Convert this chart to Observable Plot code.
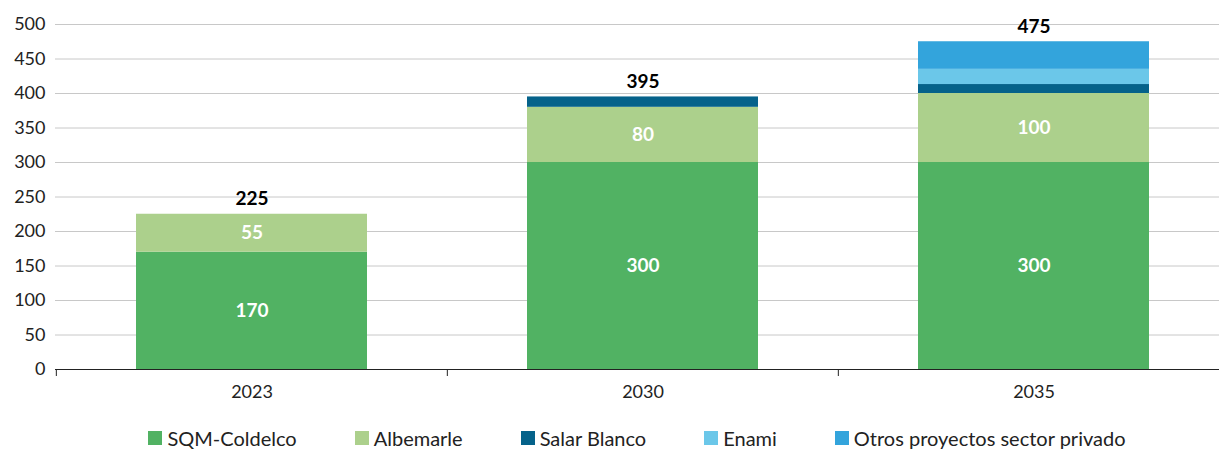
<!DOCTYPE html>
<html>
<head>
<meta charset="utf-8">
<script src="https://cdn.jsdelivr.net/npm/d3@7"></script>
<script src="https://cdn.jsdelivr.net/npm/@observablehq/plot@0.6"></script>
<style>
  body { margin: 0; background: #fff; font-family: Lato, "Open Sans", sans-serif; }
  #legend { display: flex; justify-content: center; gap: 58px; margin-left: 55px; font-size: 20px; color: #222; margin-top: 6px; }
  #legend .item { display: flex; align-items: center; gap: 5px; }
  #legend .sw { width: 14px; height: 14px; display: inline-block; }
</style>
</head>
<body>
<div id="chart"></div>
<div id="legend"></div>
<script>
const years = ["2023", "2030", "2035"];
const series = ["SQM-Coldelco", "Albemarle", "Salar Blanco", "Enami", "Otros proyectos sector privado"];
const colors = ["#51B263", "#ACD08C", "#05628A", "#6BC7E9", "#33A4DC"];
const sqm = [170, 300, 300];
const albemarle = [55, 80, 100];
const salarBlanco = [0, 15, 13];
const enami = [0, 0, 22];
const otros = [0, 0, 40];
const totals = [225, 395, 475];
const yTicks = [0, 50, 100, 150, 200, 250, 300, 350, 400, 450, 500];
const labeledSeries = ["SQM-Coldelco", "Albemarle"];

const valuesBySeries = [sqm, albemarle, salarBlanco, enami, otros];
const data = [];
series.forEach((s, i) => years.forEach((y, j) => data.push({year: y, series: s, value: valuesBySeries[i][j]})));
const totalData = years.map((y, j) => ({year: y, total: totals[j]}));

const W = 1219, H = 420;
const xRange = [55, 1229];
const step = (xRange[1] - xRange[0]) / years.length;

const plot = Plot.plot({
  width: W,
  height: H,
  marginLeft: 55,
  marginRight: 0,
  marginTop: 24,
  marginBottom: 51,
  style: {fontFamily: "Lato, 'Open Sans', sans-serif", fontSize: "18px", color: "#222", overflow: "visible"},
  x: {domain: years, range: xRange, paddingInner: 0.41, paddingOuter: 0.205, label: null},
  y: {domain: [0, 500], label: null},
  color: {domain: series, range: colors},
  marks: [
    Plot.ruleY(yTicks.filter(d => d > 0), {stroke: "#c8c8c8", strokeWidth: 1}),
    Plot.barY(data, Plot.stackY({x: "year", y: "value", fill: "series", order: series})),
    Plot.text(data.filter(d => labeledSeries.includes(d.series)), Plot.stackY({
      x: "year", y: "value", z: "series", order: series, text: d => d.value,
      fill: "white", fontWeight: "bold", fontSize: 19
    })),
    Plot.text(totalData, {x: "year", y: "total", text: "total", dy: -15, fill: "black", fontWeight: "bold", fontSize: 19}),
    Plot.ruleY([0], {stroke: "#222", strokeWidth: 1}),
    Plot.axisY({ticks: yTicks, tickSize: 0, tickPadding: 10, fontSize: 18, label: null}),
    Plot.axisX({tickSize: 7, dx: -step / 2, text: null, stroke: "#222"}),
    Plot.axisX({tickSize: 0, tickPadding: 16, fontSize: 18, label: null})
  ]
});
document.getElementById("chart").appendChild(plot);

const legend = document.getElementById("legend");
series.forEach((s, i) => {
  const item = document.createElement("div");
  item.className = "item";
  const sw = document.createElement("span");
  sw.className = "sw";
  sw.style.background = colors[i];
  const t = document.createElement("span");
  t.textContent = s;
  item.appendChild(sw);
  item.appendChild(t);
  legend.appendChild(item);
});
</script>
</body>
</html>
